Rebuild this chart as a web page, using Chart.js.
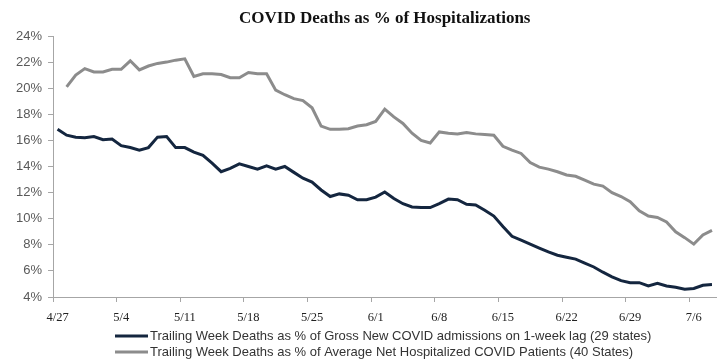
<!DOCTYPE html>
<html>
<head>
<meta charset="utf-8">
<script src="https://cdn.jsdelivr.net/npm/chart.js@4"></script>
<style>
  html, body { margin: 0; padding: 0; background: #fff; }
  canvas { display: block; }
</style>
</head>
<body>
<canvas id="c" width="720" height="363"></canvas>
<script>
const dates = [
  '4/27','4/28','4/29','4/30',
  '5/1','5/2','5/3','5/4','5/5','5/6','5/7','5/8','5/9','5/10','5/11','5/12','5/13','5/14','5/15','5/16',
  '5/17','5/18','5/19','5/20','5/21','5/22','5/23','5/24','5/25','5/26','5/27','5/28','5/29','5/30','5/31',
  '6/1','6/2','6/3','6/4','6/5','6/6','6/7','6/8','6/9','6/10','6/11','6/12','6/13','6/14','6/15','6/16',
  '6/17','6/18','6/19','6/20','6/21','6/22','6/23','6/24','6/25','6/26','6/27','6/28','6/29','6/30',
  '7/1','7/2','7/3','7/4','7/5','7/6','7/7','7/8'
];

const tickLabels = ['4/27','5/4','5/11','5/18','5/25','6/1','6/8','6/15','6/22','6/29','7/6'];

const grossAdmissions = [
  16.85, 16.4, 16.25, 16.2, 16.3, 16.05, 16.1, 15.6, 15.45, 15.25,
  15.45, 16.25, 16.3, 15.45, 15.45, 15.1, 14.85, 14.25, 13.6, 13.85,
  14.2, 14.0, 13.8, 14.05, 13.8, 14.0, 13.55, 13.1, 12.8, 12.2,
  11.7, 11.9, 11.8, 11.45, 11.45, 11.65, 12.05, 11.55, 11.15, 10.9,
  10.85, 10.85, 11.15, 11.5, 11.45, 11.1, 11.05, 10.65, 10.2, 9.4,
  8.65, 8.35, 8.05, 7.75, 7.45, 7.2, 7.05, 6.9, 6.6, 6.3,
  5.9, 5.55, 5.25, 5.1, 5.1, 4.85, 5.05, 4.85, 4.75, 4.6,
  4.65, 4.9, 4.95
];

const netHospitalized = [
  null, 20.1, 21.0, 21.5, 21.25, 21.25, 21.45, 21.45, 22.1, 21.4,
  21.7, 21.9, 22.0, 22.15, 22.25, 20.9, 21.1, 21.1, 21.05, 20.8,
  20.8, 21.2, 21.1, 21.1, 19.85, 19.5, 19.2, 19.05, 18.5, 17.1,
  16.85, 16.85, 16.9, 17.1, 17.2, 17.45, 18.4, 17.8, 17.3, 16.55,
  16.0, 15.8, 16.65, 16.55, 16.5, 16.6, 16.5, 16.45, 16.4, 15.55,
  15.25, 15.0, 14.3, 13.95, 13.8, 13.6, 13.35, 13.25, 12.95, 12.65,
  12.5, 12.0, 11.7, 11.3, 10.6, 10.2, 10.1, 9.75, 9.0, 8.55,
  8.05, 8.75, 9.1
];

const seriesNames = [
  'Trailing Week Deaths as % of Gross New COVID admissions on 1-week lag (29 states)',
  'Trailing Week Deaths as % of Average Net Hospitalized COVID Patients (40 States)'
];

const NAVY = '#14263f';
const GRAY = '#8c8c8c';
const AXIS = '#a6a6a6';

const legendPlugin = {
  id: 'customLegend',
  afterDraw(chart) {
    const ctx = chart.ctx;
    ctx.save();
    ctx.font = '13px "Liberation Sans", Arial, sans-serif';
    ctx.textBaseline = 'middle';
    ctx.textAlign = 'left';
    chart.data.datasets.forEach((ds, i) => {
      const y = 336 + i * 16;
      ctx.strokeStyle = ds.borderColor;
      ctx.lineWidth = 3;
      ctx.beginPath();
      ctx.moveTo(115, y);
      ctx.lineTo(148, y);
      ctx.stroke();
      ctx.fillStyle = '#333';
      ctx.fillText(ds.label, 150, y + 0.5);
    });
    ctx.restore();
  }
};

new Chart(document.getElementById('c'), {
  type: 'line',
  data: {
    labels: dates,
    datasets: [
      {
        label: seriesNames[0],
        data: grossAdmissions,
        borderColor: NAVY,
        backgroundColor: NAVY,
        borderWidth: 3,
        pointRadius: 0,
        tension: 0,
        fill: false
      },
      {
        label: seriesNames[1],
        data: netHospitalized,
        borderColor: GRAY,
        backgroundColor: GRAY,
        borderWidth: 3,
        pointRadius: 0,
        tension: 0,
        fill: false
      }
    ]
  },
  options: {
    responsive: false,
    devicePixelRatio: 1,
    animation: false,
    layout: { padding: { left: 0, right: 0, top: 0, bottom: 36 } },
    plugins: {
      legend: { display: false },
      tooltip: { enabled: false },
      title: {
        display: true,
        text: 'COVID Deaths as % of Hospitalizations',
        fullSize: false,
        color: '#111',
        font: { family: '"Liberation Serif", "Times New Roman", serif', size: 17, weight: 'bold' },
        padding: { top: 8, bottom: 7.6 }
      }
    },
    scales: {
      x: {
        type: 'category',
        offset: true,
        grid: {
          offset: true,
          drawOnChartArea: false,
          drawTicks: true,
          tickLength: 5,
          lineWidth: 1,
          color: (c) => (c.index % 7 === 0 && c.index < dates.length) ? AXIS : 'rgba(0,0,0,0)'
        },
        border: { display: true, color: AXIS, width: 1 },
        ticks: {
          autoSkip: false,
          maxRotation: 0,
          minRotation: 0,
          padding: 8,
          color: '#222',
          font: { family: '"Liberation Serif", "Times New Roman", serif', size: 12.5 },
          callback: function (v) {
            const l = this.getLabelForValue(v);
            return tickLabels.includes(l) ? l : '';
          }
        },
        afterFit(s) { s.height = 30; }
      },
      y: {
        min: 4,
        max: 24,
        grid: { drawOnChartArea: false, drawTicks: true, tickLength: 5, color: AXIS },
        border: { display: true, color: AXIS, width: 1 },
        ticks: {
          stepSize: 2,
          padding: 6,
          color: '#595959',
          font: { family: '"Liberation Sans", Arial, sans-serif', size: 13 },
          callback: (v) => v + '%'
        },
        afterFit(s) { s.width = 53; }
      }
    }
  },
  plugins: [legendPlugin]
});
</script>
</body>
</html>
